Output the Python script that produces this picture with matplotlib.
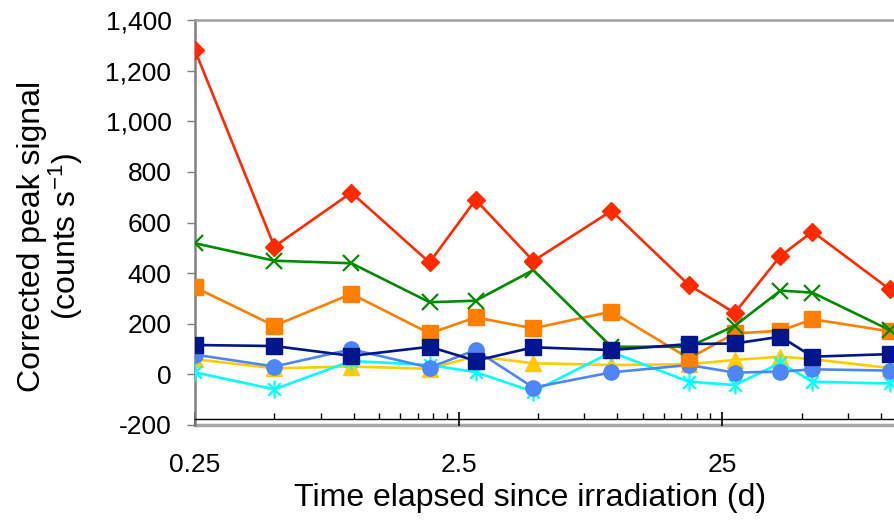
import matplotlib
matplotlib.use("Agg")
import matplotlib.pyplot as plt
from matplotlib.path import Path
from matplotlib.ticker import FixedLocator, FuncFormatter, NullFormatter

plt.rcParams['font.family'] = ['Liberation Sans', 'DejaVu Sans']
plt.rcParams['mathtext.default'] = 'regular'

# time elapsed since irradiation (d)
days = [0.25, 0.5, 0.98, 1.94, 2.9, 4.8, 9.5, 18.7, 27.9, 41.6, 55, 108]

# corrected peak signal (counts s-1), one list per series
red = [1280, 505, 718, 442, 690, 448, 646, 353, 243, 468, 564, 336]
green = [518, 449, 439, 285, 291, 412, 109, 109, 192, 331, 323, 175]
orange = [344, 192, 318, 162, 225, 182, 248, 63, 162, 172, 218, 170]
navy = [116, 112, 73, 109, 54, 107, 96, 120, 122, 149, 70, 80]
blue = [78, 31, 99, 27, 96, -52, 8, 37, 7, 11, 20, 15]
yellow = [60, 24, 31, 22, 72, 44, 37, 40, 57, 70, 60, 25]
cyan = [8, -59, 53, 37, 9, -68, 88, -29, -42, 45, -29, -36]

major_ticks = [0.25, 2.5, 25, 250]
major_labels = ['0.25', '2.5', '25', '']

# Excel style asterisk: x plus vertical bar
asterisk = Path([(-0.7, -0.7), (0.7, 0.7), (-0.7, 0.7), (0.7, -0.7), (0, -1), (0, 1)],
                [Path.MOVETO, Path.LINETO, Path.MOVETO, Path.LINETO, Path.MOVETO, Path.LINETO])

fig = plt.figure(figsize=(8.94, 5.22), dpi=100)
ax = fig.add_axes([195 / 894, 1 - 425 / 522, (985.8 - 195) / 894, 405 / 522])

lw = 1.9
ax.plot(days, yellow, color='#FFCC00', lw=lw, marker='^', ms=11, zorder=3)
ax.plot(days, cyan, color='#00FFFF', lw=lw, marker=asterisk, ms=13, mew=1.6, zorder=4)
ax.plot(days, blue, color='#4D86F7', lw=lw, marker='o', ms=11, zorder=5)
ax.plot(days, orange, color='#FF7F00', lw=lw, marker='s', ms=11, zorder=6)
ax.plot(days, green, color='#008C00', lw=lw, marker='x', ms=11, mew=1.6, zorder=7)
ax.plot(days, navy, color='#00168C', lw=lw, marker='s', ms=11, zorder=8)
ax.plot(days, red, color='#FF2A00', lw=lw, marker='D', ms=9, zorder=9)

ax.set_xscale('log')
ax.set_xlim(0.25, 250)
ax.set_ylim(-200, 1400)

ax.xaxis.set_major_locator(FixedLocator(major_ticks))
ax.set_xticklabels(major_labels)
minor = [0.25 * k * 10 ** n for n in range(3) for k in range(2, 10)]
ax.xaxis.set_minor_locator(FixedLocator(minor))
ax.xaxis.set_minor_formatter(NullFormatter())

ax.set_yticks(range(-200, 1401, 200))
ax.yaxis.set_major_formatter(FuncFormatter(lambda v, p: '{:,.0f}'.format(v)))

ax.spines['right'].set_visible(False)
ax.spines['top'].set_color('#a0a0a0')
ax.spines['top'].set_linewidth(1.8)
ax.spines['left'].set_color('#7f7f7f')
ax.spines['left'].set_linewidth(1.8)
ax.spines['bottom'].set_position(('data', -177))
ax.spines['bottom'].set_color('black')
ax.spines['bottom'].set_linewidth(1.0)
ax.axhline(-200, color='#a8a8a8', lw=2.5, clip_on=False, zorder=1)

ax.tick_params(axis='y', direction='out', length=6, width=1, color='#7f7f7f',
               labelsize=19, pad=11)
ax.tick_params(axis='x', which='major', direction='inout', length=10, width=1.2,
               color='black', labelsize=19, pad=19)
ax.tick_params(axis='x', which='minor', direction='in', length=4.5, width=1, color='black')

fig.text(530 / 894, 1 - 498 / 522, 'Time elapsed since irradiation (d)', fontsize=23,
         ha='center', va='center')
fig.text(51 / 894, 1 - 236 / 522, 'Corrected peak signal\n(counts s$^{-1}$)', fontsize=23,
         rotation=90, ha='center', va='center', multialignment='center', linespacing=1.0)

fig.savefig('out.png', dpi=100)
